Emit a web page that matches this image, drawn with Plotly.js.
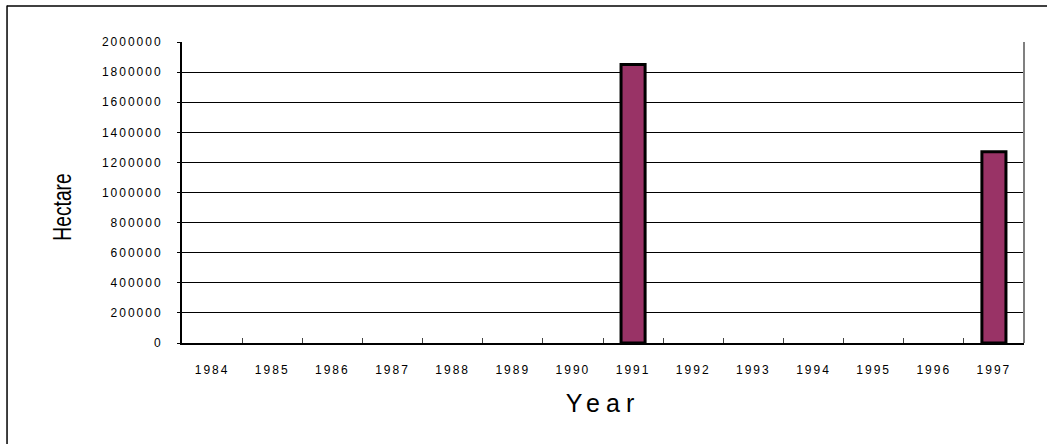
<!DOCTYPE html>
<html>
<head>
<meta charset="utf-8">
<script src="https://cdn.plot.ly/plotly-3.0.1.min.js"></script>
<style>
  html, body { margin: 0; padding: 0; background: #fff; }
  #chart { width: 1047px; height: 444px; }
  .xtick text, .ytick text { letter-spacing: 2px; }
  .g-xtitle text { letter-spacing: 6px; }
</style>
</head>
<body>
<div id="chart"></div>
<script>
const years = ["1984","1985","1986","1987","1988","1989","1990","1991","1992","1993","1994","1995","1996","1997"];
const hectares = [null,null,null,null,null,null,null,1850000,null,null,null,null,null,1270000];
const yTickValues = [0,200000,400000,600000,800000,1000000,1200000,1400000,1600000,1800000,2000000];
const yTickLabels = ["0","200000","400000","600000","800000","1000000","1200000","1400000","1600000","1800000","2000000"];

const trace = {
  type: "bar",
  x: years,
  y: hectares,
  width: 0.4,
  marker: { color: "#993366", line: { color: "#000000", width: 3 } },
  hoverinfo: "x+y"
};

const fontFam = "'Liberation Sans', Arial, sans-serif";

const layout = {
  width: 1047,
  height: 444,
  margin: { l: 182, r: 23, t: 42, b: 101, pad: 0 },
  paper_bgcolor: "#ffffff",
  plot_bgcolor: "#ffffff",
  showlegend: false,
  font: { family: fontFam, color: "#000000", size: 12 },
  bargap: 0.6,
  xaxis: {
    type: "category",
    categoryorder: "array",
    categoryarray: years,
    showline: true,
    linecolor: "#000000",
    linewidth: 2,
    showgrid: false,
    zeroline: false,
    ticks: "inside",
    tickson: "boundaries",
    ticklen: 5,
    tickcolor: "#444444",
    tickwidth: 1,
    ticklabelstandoff: 15,
    tickfont: { family: fontFam, size: 12, color: "#000000" },
    title: { text: "Year", font: { family: fontFam, size: 25, color: "#000000" }, standoff: 18 },
    fixedrange: true
  },
  yaxis: {
    range: [0, 2000000],
    tickvals: yTickValues,
    ticktext: yTickLabels,
    showline: true,
    linecolor: "#000000",
    linewidth: 2,
    showgrid: true,
    gridcolor: "#000000",
    gridwidth: 1,
    zeroline: false,
    ticks: "outside",
    ticklen: 3,
    tickcolor: "#000000",
    tickwidth: 1,
    ticklabelstandoff: 12,
    tickfont: { family: fontFam, size: 12, color: "#000000" },
    title: { text: "Hectare", font: { family: fontFam, size: 26, color: "#000000" }, standoff: 18 },
    fixedrange: true
  },
  shapes: [
    { type: "line", xref: "paper", yref: "paper", x0: 1, x1: 1, y0: 0, y1: 1, line: { color: "#808080", width: 2 } },
    { type: "line", xref: "paper", yref: "paper", x0: -0.2078, x1: 1.03, y0: 1.1196, y1: 1.1196, line: { color: "#404040", width: 2 } },
    { type: "line", xref: "paper", yref: "paper", x0: -0.2078, x1: -0.2078, y0: 1.1213, y1: -0.34, line: { color: "#000000", width: 1.5 } }
  ]
};

Plotly.newPlot("chart", [trace], layout, { displayModeBar: false, staticPlot: true }).then(function () {
  // The reference's y title is drawn in a tall, condensed face: squeeze along its length.
  const t = document.querySelector(".g-ytitle text");
  if (t) {
    t.setAttribute("x", 0);
    t.setAttribute("y", 0);
    t.setAttribute("text-anchor", "middle");
    t.setAttribute("transform", "translate(62,207) rotate(-90) scale(0.74,1) translate(0,9)");
  }
});
</script>
</body>
</html>
